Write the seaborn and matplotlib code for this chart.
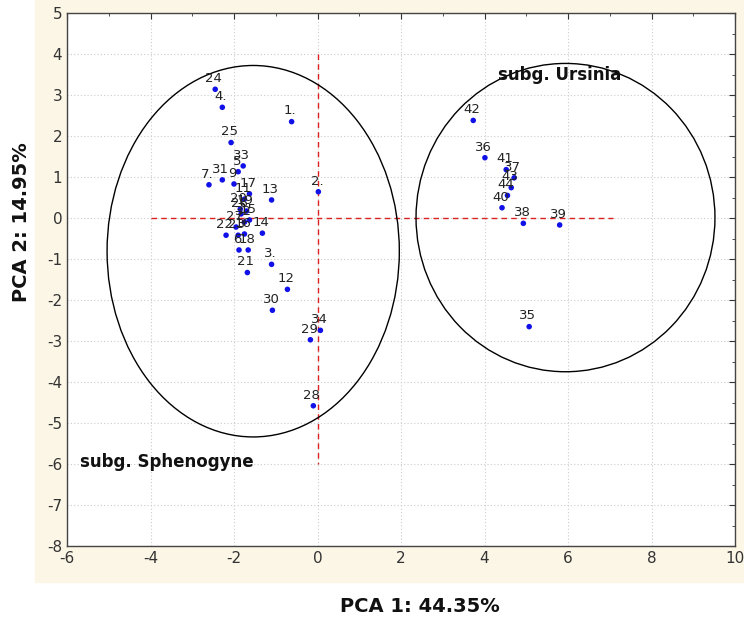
import numpy as np
import pandas as pd
import seaborn as sns
import matplotlib
matplotlib.use("Agg")
import matplotlib.pyplot as plt
from matplotlib.patches import Ellipse, Rectangle
from matplotlib.ticker import MultipleLocator

# sample labels and PCA scores
labels = ["1.", "2.", "3.", "4.", "5", "6", "7.", "9", "11", "12", "13", "14",
          "15", "16", "17", "18", "19", "20", "21", "22", "23", "24", "25",
          "26", "27", "28", "29", "30", "31", "32", "33", "34",
          "35", "36", "37", "38", "39", "40", "41", "42", "43", "44"]
pca1 = [-0.62, 0.02, -1.10, -2.28, -1.90, -1.88, -2.60, -2.00, -1.75, -0.72, -1.10, -1.32,
        -1.63, -1.75, -1.63, -1.66, -1.70, -1.85, -1.68, -2.19, -1.90, -2.45, -2.07,
        -1.83, -1.95, -0.10, -0.17, -1.08, -2.28, -1.75, -1.78, 0.07,
        5.07, 4.01, 4.71, 4.93, 5.80, 4.42, 4.52, 3.73, 4.64, 4.55]
pca2 = [2.35, 0.64, -1.13, 2.70, 1.13, -0.78, 0.81, 0.83, 0.46, -1.74, 0.44, -0.37,
        -0.05, -0.39, 0.59, -0.78, 0.17, 0.22, -1.33, -0.42, -0.42, 3.14, 1.84,
        0.10, -0.22, -4.58, -2.97, -2.25, 0.93, -0.10, 1.27, -2.74,
        -2.65, 1.47, 0.98, -0.13, -0.17, 0.25, 1.18, 2.38, 0.74, 0.55]

# group ellipses: (centre x, centre y, width, height)
groups = ["subg. Sphenogyne", "subg. Ursinia"]
ell_cx = [-1.54, 5.94]
ell_cy = [-0.81, 0.01]
ell_w = [7.0, 7.16]
ell_h = [9.06, 7.52]

df = pd.DataFrame({"label": labels, "PCA1": pca1, "PCA2": pca2})

sns.set_style("white")
plt.rcParams["axes.unicode_minus"] = False
fig = plt.figure(figsize=(7.44, 6.27), dpi=100, facecolor="white")
# cream band behind tick labels
fig.patches.append(Rectangle((35 / 744, 1 - 582 / 627), 1, 582 / 627,
                             transform=fig.transFigure, color="#fbf6e6", zorder=0))
ax = fig.add_axes([67 / 744, 1 - 546 / 627, 668 / 744, 533 / 627])
ax.set_zorder(2)
ax.set_facecolor("white")

ax.set_xlim(-6, 10)
ax.set_ylim(-8, 5)
ax.xaxis.set_major_locator(MultipleLocator(2))
ax.xaxis.set_minor_locator(MultipleLocator(1))
ax.yaxis.set_major_locator(MultipleLocator(1))
ax.yaxis.set_minor_locator(MultipleLocator(0.5))
ax.grid(True, which="major", color="#cccccc", linestyle=(0, (1, 2)), linewidth=0.8)
ax.tick_params(which="both", direction="in", top=True, right=True,
               labelsize=11, colors="#333333")
ax.tick_params(which="major", length=4)
ax.tick_params(which="minor", length=2)
for s in ax.spines.values():
    s.set_color("#444444")
    s.set_linewidth(1.0)

# origin cross
ax.plot([-4, 7.08], [0, 0], color="#dd2020", linestyle=(0, (4, 3)), linewidth=1, zorder=2)
ax.plot([0, 0], [4, -6], color="#dd2020", linestyle=(0, (4, 3)), linewidth=1, zorder=2)

for cx, cy, w, h in zip(ell_cx, ell_cy, ell_w, ell_h):
    ax.add_patch(Ellipse((cx, cy), w, h, fill=False, edgecolor="black", linewidth=1, zorder=3))

sns.scatterplot(data=df, x="PCA1", y="PCA2", ax=ax, color="#1010e8", s=16,
                edgecolor="none", zorder=4)
for _, r in df.iterrows():
    ax.annotate(r["label"], (r["PCA1"], r["PCA2"]), xytext=(-1, 3),
                textcoords="offset points", ha="center", va="bottom",
                fontsize=9.5, color="#222222", zorder=5)

ax.text(5.8, 3.48, groups[1], ha="center", va="center", fontsize=12,
        fontweight="bold", family="DejaVu Sans", color="#111111")
ax.text(-5.7, -5.95, groups[0], ha="left", va="center", fontsize=12,
        fontweight="bold", family="DejaVu Sans", color="#111111")

ax.set_xlabel("")
ax.set_ylabel("")
fig.text(420 / 744, 1 - 607 / 627, "PCA 1: 44.35%", ha="center", va="center",
         fontsize=14, fontweight="bold", color="#111111")
fig.text(22 / 744, 1 - 222 / 627, "PCA 2: 14.95%", ha="center", va="center",
         fontsize=14, fontweight="bold", rotation=90, color="#111111")

fig.savefig("out.png", dpi=100, facecolor=fig.get_facecolor())
